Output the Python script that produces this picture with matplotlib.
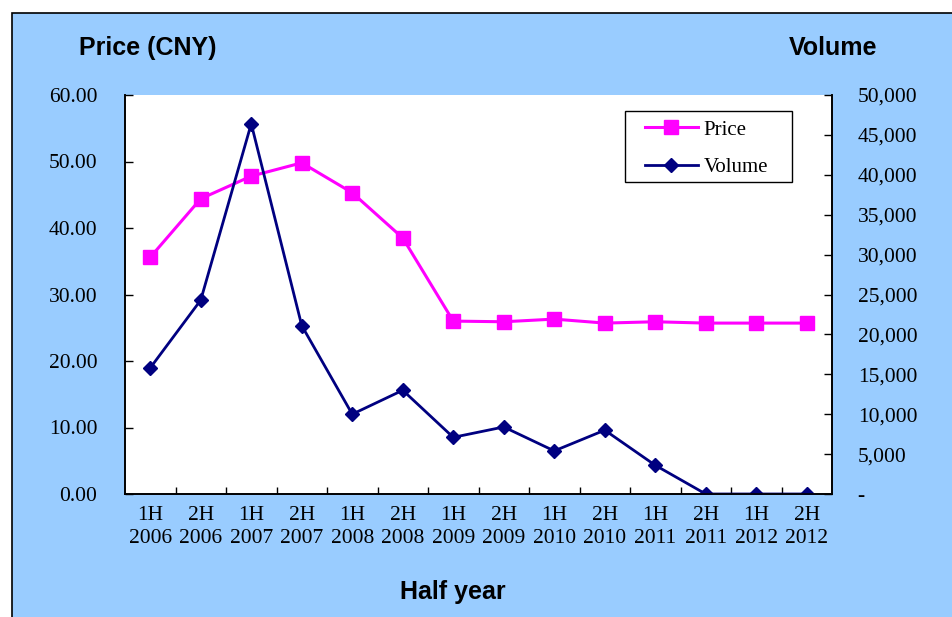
import matplotlib.pyplot as plt
from matplotlib.patches import Rectangle
from matplotlib.ticker import FuncFormatter, FixedLocator

periods = ['1H\n2006', '2H\n2006', '1H\n2007', '2H\n2007', '1H\n2008', '2H\n2008', '1H\n2009',
           '2H\n2009', '1H\n2010', '2H\n2010', '1H\n2011', '2H\n2011', '1H\n2012', '2H\n2012']
price = [35.6, 44.4, 47.8, 49.8, 45.3, 38.5, 26.0, 25.9, 26.3, 25.7, 25.9, 25.7, 25.7, 25.7]
volume = [15800, 24300, 46400, 21100, 10000, 13000, 7100, 8400, 5400, 8000, 3600, 0, 0, 0]

W, H = 953, 617
fig = plt.figure(figsize=(W / 100, H / 100), dpi=100)
fig.patch.set_facecolor('white')
bg = Rectangle((12 / W, -0.01), 1.02, 1 - 13 / H + 0.01, transform=fig.transFigure,
               facecolor='#99CCFF', edgecolor='black', lw=1.2, zorder=-10)
fig.add_artist(bg)

ax = fig.add_axes([125 / W, (H - 494) / H, 707 / W, 399 / H])
ax.set_facecolor('white')
ax2 = ax.twinx()

x = list(range(len(periods)))
ax.plot(x, price, color='#FF00FF', lw=2.2, marker='s', ms=10.5, mec='#FF00FF', label='Price')
ax2.plot(x, volume, color='#000080', lw=2.0, marker='D', ms=7.5, mec='#000080', label='Volume')

ax.set_xlim(-0.5, 13.5)
ax.set_ylim(0, 60)
ax2.set_ylim(0, 50000)
ax.set_yticks(range(0, 61, 10))
ax2.set_yticks(range(0, 50001, 5000))
ax.yaxis.set_major_formatter(FuncFormatter(lambda v, p: '%.2f' % v))
ax2.yaxis.set_major_formatter(FuncFormatter(lambda v, p: '-' if v == 0 else '{:,.0f}'.format(v)))

ax.set_xticks(x)
ax.set_xticklabels(periods)
ax.xaxis.set_minor_locator(FixedLocator([i + 0.5 for i in range(13)]))

tf = {'family': 'Liberation Serif', 'size': 15.5}
for lab in ax.get_xticklabels() + ax.get_yticklabels() + ax2.get_yticklabels():
    lab.set_fontfamily(tf['family'])
    lab.set_fontsize(tf['size'])
    lab.set_linespacing(1.25)

ax.tick_params(axis='x', which='major', length=0, pad=9)
ax.tick_params(axis='x', which='minor', direction='in', length=5, width=1)
ax.tick_params(axis='y', direction='in', length=6, width=1, pad=20)
ax2.tick_params(axis='y', direction='in', length=6, width=1, pad=18.5)

for a in (ax, ax2):
    a.spines['top'].set_visible(False)
    for s in ('left', 'right', 'bottom'):
        a.spines[s].set_color('black')
        a.spines[s].set_linewidth(1.2)

tt = {'family': 'Liberation Sans', 'size': 18, 'weight': 'bold'}
fig.text(148 / W, 1 - 48 / H, 'Price (CNY)', ha='center', va='center', **tt)
fig.text(833 / W, 1 - 48 / H, 'Volume', ha='center', va='center', **tt)
fig.text(453 / W, 1 - 592 / H, 'Half year', ha='center', va='center', **tt)

# legend box drawn separately so its padding matches the original
ax2.add_patch(Rectangle((0.707, 0.782), 0.236, 0.178, transform=ax2.transAxes,
                        facecolor='white', edgecolor='black', lw=1, zorder=4))
h1, l1 = ax.get_legend_handles_labels()
h2, l2 = ax2.get_legend_handles_labels()
leg = ax2.legend(h1 + h2, l1 + l2, loc='center', bbox_to_anchor=(0.823, 0.866),
                 borderaxespad=0, frameon=False,
                 prop={'family': 'Liberation Serif', 'size': 15}, handlelength=2.5,
                 borderpad=0, labelspacing=0.85, handletextpad=0.3)
leg.set_zorder(5)

fig.savefig('out.png', dpi=100)
